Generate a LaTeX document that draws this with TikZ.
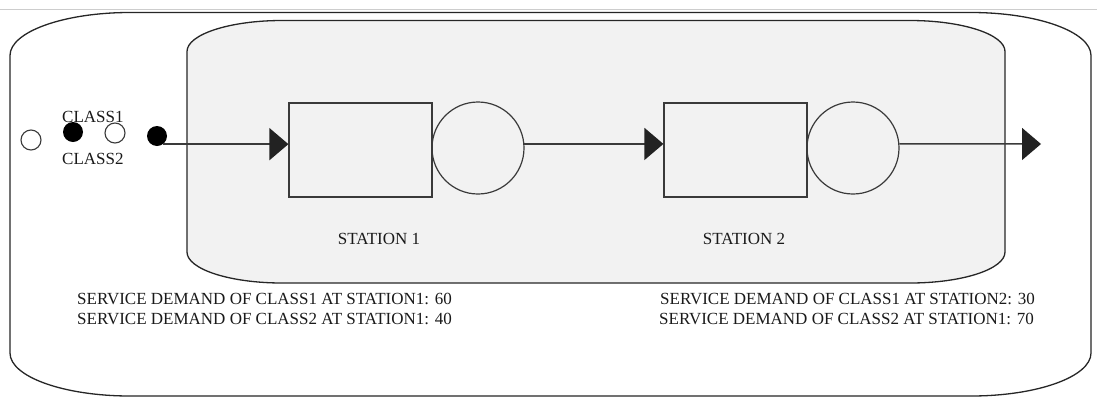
\documentclass[tikz,border=0pt]{standalone}
\usepackage{fontspec}
\setmainfont{Liberation Serif}
\usetikzlibrary{arrows.meta}
\definecolor{inkline}{HTML}{3A3A3A}
\definecolor{tipink}{HTML}{222222}
\definecolor{panelfill}{HTML}{F2F2F2}
\definecolor{topruler}{HTML}{CDCDCD}
\definecolor{labelink}{HTML}{1A1A1A}
\begin{document}
\begin{tikzpicture}[x=1pt,y=-1pt,
  outline/.style={draw=black!85,line width=1.3pt},
  queuebox/.style={draw=inkline,line width=1.2pt,minimum width=143pt,minimum height=94pt,inner sep=0pt},
  server/.style={circle,draw=inkline,line width=1.2pt,minimum size=92pt,inner sep=0pt},
  jobfull/.style={circle,fill=black,minimum size=20pt,inner sep=0pt},
  jobempty/.style={circle,draw=inkline,fill=white,line width=1.1pt,minimum size=20pt,inner sep=0pt},
  flow/.style={draw=inkline,line width=1.5pt,-{Triangle[length=19pt,width=32pt,fill=tipink,color=tipink]}},
  lbl/.style={font=\fontsize{17}{20}\selectfont,text=labelink,inner sep=0pt,anchor=base west},
  stationlbl/.style={font=\fontsize{17}{20}\selectfont,text=labelink,inner sep=0pt}]
\useasboundingbox (0,0) rectangle (1097,397);

% thin ruler along the top edge
\draw[topruler,line width=1.2pt] (0,9.5) -- (1097,9.5);

% outer system boundary
\draw[outline,fill=white]
  (10,55.5) .. controls (10,31.8) and (63.7,12.5) .. (130,12.5)
  -- (971,12.5) .. controls (1037.3,12.5) and (1091,31.8) .. (1091,55.5)
  -- (1091,353) .. controls (1091,376.7) and (1037.3,396) .. (971,396)
  -- (130,396) .. controls (63.7,396) and (10,376.7) .. (10,353) -- cycle;

% network panel
\draw[outline,fill=panelfill]
  (187,51.5) .. controls (187,34.4) and (229.6,20.5) .. (282,20.5)
  -- (910,20.5) .. controls (962.4,20.5) and (1005,34.4) .. (1005,51.5)
  -- (1005,252) .. controls (1005,269.1) and (962.4,283) .. (910,283)
  -- (282,283) .. controls (229.6,283) and (187,269.1) .. (187,252) -- cycle;

% class labels
\node[lbl] (c1) at (62,122) {CLASS1};
\node[lbl] (c2) at (62,164) {CLASS2};

% arriving jobs
\node[jobempty] (j1) at (31,140) {};
\node[jobfull]  (j2) at (73,132) {};
\node[jobempty] (j3) at (115,133) {};
\node[jobfull]  (j4) at (157,136) {};

% stations
\node[queuebox] (q1) at (360.5,150) {};
\node[server]   (s1) at (478,148) {};
\node[queuebox] (q2) at (735.5,150) {};
\node[server]   (s2) at (853,148) {};
\coordinate (sink) at (1041,144);

\node[stationlbl] (st1) at (379,239) {STATION 1};
\node[stationlbl] (st2) at (744,239) {STATION 2};

% job flow
\draw[flow] (j4.-53) -- (j4.-53 -| q1.west);
\draw[flow] (s1.5) -- (s1.5 -| q2.west);
\draw[flow] (s2.5) -- (sink);

% service demands
\node[lbl] (d11) at (77,304) {SERVICE DEMAND OF CLASS1 AT STATION1: 60};
\node[lbl] (d21) at (77,324) {SERVICE DEMAND OF CLASS2 AT STATION1: 40};
\node[lbl] (d12) at (660,304) {SERVICE DEMAND OF CLASS1 AT STATION2: 30};
\node[lbl] (d22) at (659,324) {SERVICE DEMAND OF CLASS2 AT STATION1: 70};
\end{tikzpicture}
\end{document}
